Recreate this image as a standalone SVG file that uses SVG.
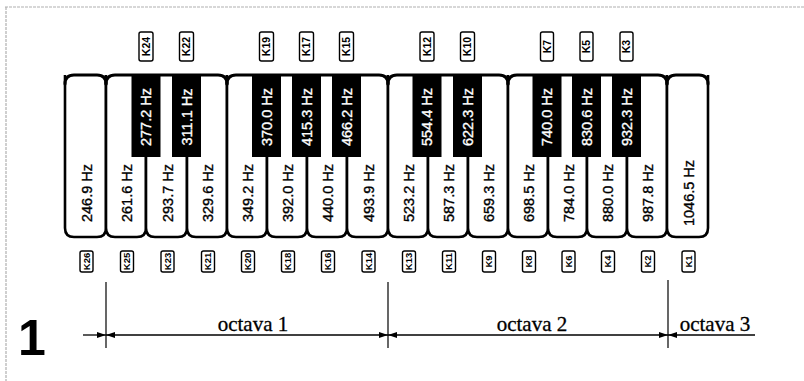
<svg xmlns="http://www.w3.org/2000/svg" width="804" height="381" viewBox="0 0 804 381">
<style>
.frame{stroke:#b0b0b0;stroke-width:1.2;fill:none;stroke-dasharray:3 1}
.wk{fill:#fff;stroke:#000;stroke-width:2.6;stroke-linejoin:round}
.top{fill:none;stroke:#000;stroke-width:3;stroke-linecap:round}
.bk{fill:#000}
.hz{font-family:"Liberation Sans",Arial,sans-serif;font-size:14.5px;text-anchor:middle;fill:#000;stroke:#000;stroke-width:0.35}
.hzw{font-family:"Liberation Sans",Arial,sans-serif;font-size:14.5px;text-anchor:middle;fill:#fff;stroke:#fff;stroke-width:0.35}
.kb{fill:#fff;stroke:#000;stroke-width:1.4}
.kt{font-family:"Liberation Sans",Arial,sans-serif;font-size:9.5px;font-weight:bold;text-anchor:middle;fill:#000}
.ktt{font-family:"Liberation Sans",Arial,sans-serif;font-size:10.5px;font-weight:bold;text-anchor:middle;fill:#000}
.dim{stroke:#000;stroke-width:1.3;fill:none}
.ext{stroke:#000;stroke-width:1.2}
.oct{font-family:"Liberation Serif","Times New Roman",serif;font-size:21px;text-anchor:middle;fill:#000;stroke:#000;stroke-width:0.3}
.num{font-family:"Liberation Sans",Arial,sans-serif;font-size:50px;font-weight:bold;fill:#000}
</style>
<defs>
<marker id="arr" markerWidth="9" markerHeight="6" refX="9" refY="3" orient="auto-start-reverse" markerUnits="userSpaceOnUse">
<path d="M0,0 L9,3 L0,6 z" fill="#000"/>
</marker>
</defs>
<rect width="804" height="381" fill="#fff"/>
<path class="frame" d="M5,7 H804 M6,7 V381"/>

<!-- white keys -->
<g id="w1"><path class="wk" d="M65,75 V228 Q65,237 74,237 H97 Q106,237 106,228 V75"/><text class="hz" transform="translate(86.5,193) rotate(-90)" dy="5">246.9 Hz</text><rect class="kb" x="80" y="251" width="13" height="21" rx="2"/><text class="kt" transform="translate(86.5,261.5) rotate(-90)" dy="3.4">K26</text></g>
<g id="w2"><path class="wk" d="M106,75 V228 Q106,237 115,237 H137 Q146,237 146,228 V75"/><text class="hz" transform="translate(127,193) rotate(-90)" dy="5">261.6 Hz</text><rect class="kb" x="120.5" y="251" width="13" height="21" rx="2"/><text class="kt" transform="translate(127,261.5) rotate(-90)" dy="3.4">K25</text></g>
<g id="w3"><path class="wk" d="M146,75 V228 Q146,237 155,237 H178 Q187,237 187,228 V75"/><text class="hz" transform="translate(167.5,193) rotate(-90)" dy="5">293.7 Hz</text><rect class="kb" x="161" y="251" width="13" height="21" rx="2"/><text class="kt" transform="translate(167.5,261.5) rotate(-90)" dy="3.4">K23</text></g>
<g id="w4"><path class="wk" d="M187,75 V228 Q187,237 196,237 H218 Q227,237 227,228 V75"/><text class="hz" transform="translate(208,193) rotate(-90)" dy="5">329.6 Hz</text><rect class="kb" x="201.5" y="251" width="13" height="21" rx="2"/><text class="kt" transform="translate(208,261.5) rotate(-90)" dy="3.4">K21</text></g>
<g id="w5"><path class="wk" d="M227,75 V228 Q227,237 236,237 H258 Q267,237 267,228 V75"/><text class="hz" transform="translate(248,193) rotate(-90)" dy="5">349.2 Hz</text><rect class="kb" x="241.5" y="251" width="13" height="21" rx="2"/><text class="kt" transform="translate(248,261.5) rotate(-90)" dy="3.4">K20</text></g>
<g id="w6"><path class="wk" d="M267,75 V228 Q267,237 276,237 H298 Q307,237 307,228 V75"/><text class="hz" transform="translate(288,193) rotate(-90)" dy="5">392.0 Hz</text><rect class="kb" x="281.5" y="251" width="13" height="21" rx="2"/><text class="kt" transform="translate(288,261.5) rotate(-90)" dy="3.4">K18</text></g>
<g id="w7"><path class="wk" d="M307,75 V228 Q307,237 316,237 H338 Q347,237 347,228 V75"/><text class="hz" transform="translate(328,193) rotate(-90)" dy="5">440.0 Hz</text><rect class="kb" x="321.5" y="251" width="13" height="21" rx="2"/><text class="kt" transform="translate(328,261.5) rotate(-90)" dy="3.4">K16</text></g>
<g id="w8"><path class="wk" d="M347,75 V228 Q347,237 356,237 H379 Q388,237 388,228 V75"/><text class="hz" transform="translate(368.5,193) rotate(-90)" dy="5">493.9 Hz</text><rect class="kb" x="362" y="251" width="13" height="21" rx="2"/><text class="kt" transform="translate(368.5,261.5) rotate(-90)" dy="3.4">K14</text></g>
<g id="w9"><path class="wk" d="M388,75 V228 Q388,237 397,237 H419 Q428,237 428,228 V75"/><text class="hz" transform="translate(409,193) rotate(-90)" dy="5">523.2 Hz</text><rect class="kb" x="402.5" y="251" width="13" height="21" rx="2"/><text class="kt" transform="translate(409,261.5) rotate(-90)" dy="3.4">K13</text></g>
<g id="w10"><path class="wk" d="M428,75 V228 Q428,237 437,237 H459 Q468,237 468,228 V75"/><text class="hz" transform="translate(449,193) rotate(-90)" dy="5">587.3 Hz</text><rect class="kb" x="442.5" y="251" width="13" height="21" rx="2"/><text class="kt" transform="translate(449,261.5) rotate(-90)" dy="3.4">K11</text></g>
<g id="w11"><path class="wk" d="M468,75 V228 Q468,237 477,237 H499 Q508,237 508,228 V75"/><text class="hz" transform="translate(489,193) rotate(-90)" dy="5">659.3 Hz</text><rect class="kb" x="482.5" y="251" width="13" height="21" rx="2"/><text class="kt" transform="translate(489,261.5) rotate(-90)" dy="3.4">K9</text></g>
<g id="w12"><path class="wk" d="M508,75 V228 Q508,237 517,237 H539 Q548,237 548,228 V75"/><text class="hz" transform="translate(529,193) rotate(-90)" dy="5">698.5 Hz</text><rect class="kb" x="522.5" y="251" width="13" height="21" rx="2"/><text class="kt" transform="translate(529,261.5) rotate(-90)" dy="3.4">K8</text></g>
<g id="w13"><path class="wk" d="M548,75 V228 Q548,237 557,237 H578 Q587,237 587,228 V75"/><text class="hz" transform="translate(568.5,193) rotate(-90)" dy="5">784.0 Hz</text><rect class="kb" x="562" y="251" width="13" height="21" rx="2"/><text class="kt" transform="translate(568.5,261.5) rotate(-90)" dy="3.4">K6</text></g>
<g id="w14"><path class="wk" d="M587,75 V228 Q587,237 596,237 H618 Q627,237 627,228 V75"/><text class="hz" transform="translate(608,193) rotate(-90)" dy="5">880.0 Hz</text><rect class="kb" x="601.5" y="251" width="13" height="21" rx="2"/><text class="kt" transform="translate(608,261.5) rotate(-90)" dy="3.4">K4</text></g>
<g id="w15"><path class="wk" d="M627,75 V228 Q627,237 636,237 H658 Q667,237 667,228 V75"/><text class="hz" transform="translate(648,193) rotate(-90)" dy="5">987.8 Hz</text><rect class="kb" x="641.5" y="251" width="13" height="21" rx="2"/><text class="kt" transform="translate(648,261.5) rotate(-90)" dy="3.4">K2</text></g>
<g id="w16"><path class="wk" d="M667,75 V228 Q667,237 676,237 H699 Q708,237 708,228 V75"/><text class="hz" transform="translate(688.5,193) rotate(-90)" dy="5">1046.5 Hz</text><rect class="kb" x="682" y="251" width="13" height="21" rx="2"/><text class="kt" transform="translate(688.5,261.5) rotate(-90)" dy="3.4">K1</text></g>

<!-- keyboard top outline by groups -->
<g id="keyboard-top">
<path class="top" d="M65,84 Q65,75 74,75 H97 Q106,75 106,84"/>
<path class="top" d="M106,84 Q106,75 115,75 H218 Q227,75 227,84"/>
<path class="top" d="M227,84 Q227,75 236,75 H379 Q388,75 388,84"/>
<path class="top" d="M388,84 Q388,75 397,75 H499 Q508,75 508,84"/>
<path class="top" d="M508,84 Q508,75 517,75 H658 Q667,75 667,84"/>
<path class="top" d="M667,84 Q667,75 676,75 H699 Q708,75 708,84"/>
</g>

<!-- black keys -->
<g id="b1"><rect class="bk" x="131.5" y="75" width="29" height="82"/><text class="hzw" transform="translate(146,117) rotate(-90)" dy="5">277.2 Hz</text><rect class="kb" x="139" y="32" width="14" height="29" rx="2"/><text class="ktt" transform="translate(146,46.5) rotate(-90)" dy="3.8">K24</text></g>
<g id="b2"><rect class="bk" x="172" y="75" width="29" height="82"/><text class="hzw" transform="translate(186.5,117) rotate(-90)" dy="5">311.1 Hz</text><rect class="kb" x="179.5" y="32" width="14" height="29" rx="2"/><text class="ktt" transform="translate(186.5,46.5) rotate(-90)" dy="3.8">K22</text></g>
<g id="b3"><rect class="bk" x="252" y="75" width="29" height="82"/><text class="hzw" transform="translate(266.5,117) rotate(-90)" dy="5">370.0 Hz</text><rect class="kb" x="259.5" y="32" width="14" height="29" rx="2"/><text class="ktt" transform="translate(266.5,46.5) rotate(-90)" dy="3.8">K19</text></g>
<g id="b4"><rect class="bk" x="292" y="75" width="29" height="82"/><text class="hzw" transform="translate(306.5,117) rotate(-90)" dy="5">415.3 Hz</text><rect class="kb" x="299.5" y="32" width="14" height="29" rx="2"/><text class="ktt" transform="translate(306.5,46.5) rotate(-90)" dy="3.8">K17</text></g>
<g id="b5"><rect class="bk" x="332" y="75" width="29" height="82"/><text class="hzw" transform="translate(346.5,117) rotate(-90)" dy="5">466.2 Hz</text><rect class="kb" x="339.5" y="32" width="14" height="29" rx="2"/><text class="ktt" transform="translate(346.5,46.5) rotate(-90)" dy="3.8">K15</text></g>
<g id="b6"><rect class="bk" x="412.5" y="75" width="29" height="82"/><text class="hzw" transform="translate(427,117) rotate(-90)" dy="5">554.4 Hz</text><rect class="kb" x="420" y="32" width="14" height="29" rx="2"/><text class="ktt" transform="translate(427,46.5) rotate(-90)" dy="3.8">K12</text></g>
<g id="b7"><rect class="bk" x="453" y="75" width="29" height="82"/><text class="hzw" transform="translate(467.5,117) rotate(-90)" dy="5">622.3 Hz</text><rect class="kb" x="460.5" y="32" width="14" height="29" rx="2"/><text class="ktt" transform="translate(467.5,46.5) rotate(-90)" dy="3.8">K10</text></g>
<g id="b8"><rect class="bk" x="532.5" y="75" width="29" height="82"/><text class="hzw" transform="translate(547,117) rotate(-90)" dy="5">740.0 Hz</text><rect class="kb" x="540.5" y="32" width="13" height="29" rx="2"/><text class="ktt" transform="translate(547,46.5) rotate(-90)" dy="3.8">K7</text></g>
<g id="b9"><rect class="bk" x="572" y="75" width="29" height="82"/><text class="hzw" transform="translate(586.5,117) rotate(-90)" dy="5">830.6 Hz</text><rect class="kb" x="580" y="32" width="13" height="29" rx="2"/><text class="ktt" transform="translate(586.5,46.5) rotate(-90)" dy="3.8">K5</text></g>
<g id="b10"><rect class="bk" x="612" y="75" width="29" height="82"/><text class="hzw" transform="translate(626.5,117) rotate(-90)" dy="5">932.3 Hz</text><rect class="kb" x="620" y="32" width="13" height="29" rx="2"/><text class="ktt" transform="translate(626.5,46.5) rotate(-90)" dy="3.8">K3</text></g>

<!-- dimension connectors -->
<g id="connectors">
<line class="ext" x1="106" y1="282" x2="106" y2="348"/>
<line class="ext" x1="388" y1="282" x2="388" y2="348"/>
<line class="ext" x1="668" y1="280" x2="668" y2="348"/>
<line class="dim" x1="83" y1="335" x2="106" y2="335" marker-end="url(#arr)"/>
<line class="dim" x1="106" y1="335" x2="388" y2="335" marker-start="url(#arr)" marker-end="url(#arr)"/>
<line class="dim" x1="388" y1="335" x2="668" y2="335" marker-start="url(#arr)" marker-end="url(#arr)"/>
<line class="dim" x1="668" y1="335" x2="755" y2="335" marker-start="url(#arr)"/>
</g>

<g id="labels">
<text class="oct" x="253" y="331">octava 1</text>
<text class="oct" x="532" y="331">octava 2</text>
<text class="oct" x="715" y="331">octava 3</text>
<text class="num" x="18" y="355">1</text>
</g>
</svg>
